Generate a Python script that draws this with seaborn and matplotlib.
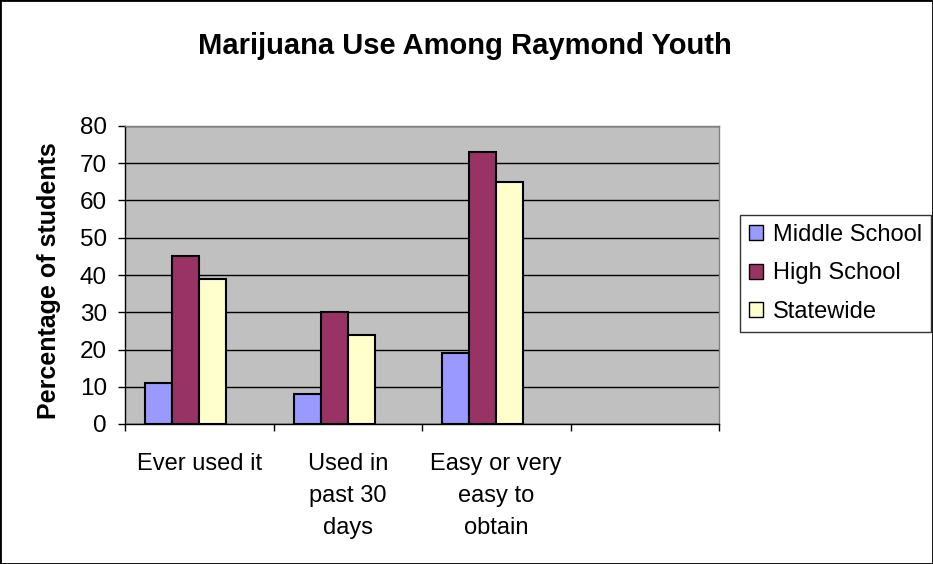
import pandas as pd
import matplotlib
matplotlib.use("Agg")
import matplotlib.pyplot as plt
import matplotlib.patches as mpatches
from matplotlib.ticker import FixedLocator
import seaborn as sns

# chart data
categories = ["Ever used it", "Used in\npast 30\ndays", "Easy or very\neasy to\nobtain"]
series = ["Middle School", "High School", "Statewide"]
middle_school = [11, 8, 19]
high_school = [45, 30, 73]
statewide = [39, 24, 65]
colors = ["#9999FF", "#993366", "#FFFFCC"]
y_ticks = [0, 10, 20, 30, 40, 50, 60, 70, 80]

rows = []
for name, vals in zip(series, [middle_school, high_school, statewide]):
    for cat, v in zip(categories, vals):
        rows.append({"category": cat, "group": name, "value": v})
df = pd.DataFrame(rows)

sns.set_style("white")
plt.rcParams["font.family"] = ["Liberation Sans", "DejaVu Sans"]
plt.rcParams["text.color"] = "black"
plt.rcParams["xtick.color"] = "black"
plt.rcParams["ytick.color"] = "black"
plt.rcParams["axes.labelcolor"] = "black"

fig = plt.figure(figsize=(9.33, 5.64), dpi=100)
ax = fig.add_axes([125 / 933, 1 - 424 / 564, 594 / 933, 298 / 564])

# Excel leaves an empty 4th series slot and an empty 4th category
hue_order = series + ["_blank"]
palette = dict(zip(hue_order, colors + ["#000000"]))
sns.barplot(data=df, x="category", y="value", hue="group", hue_order=hue_order,
            order=categories + [" "], palette=palette, width=4 / 5.5,
            edgecolor="black", linewidth=1.5, saturation=1, legend=False,
            errorbar=None, ax=ax)

ax.set_facecolor("#C0C0C0")
ax.set_xlim(-0.5, 3.5)
ax.set_ylim(0, 80)
ax.set_yticks(y_ticks)
ax.yaxis.grid(True, color="black", linewidth=1)
ax.set_axisbelow(True)
for s in ["top", "right"]:
    ax.spines[s].set_color("#808080")
    ax.spines[s].set_linewidth(1)
for s in ["left", "bottom"]:
    ax.spines[s].set_color("black")
    ax.spines[s].set_linewidth(1)

ax.tick_params(axis="y", direction="out", length=5, width=1, color="black",
               labelcolor="black", labelsize=17.5, pad=8, left=True)
ax.set_xticks([0, 1, 2])
ax.set_xticklabels(categories, fontsize=17, linespacing=1.57, va="top")
ax.tick_params(axis="x", which="major", length=0, pad=21, labelcolor="black")
ax.xaxis.set_minor_locator(FixedLocator([-0.5, 0.5, 1.5, 2.5, 3.5]))
ax.tick_params(axis="x", which="minor", direction="out", length=5, width=1,
               color="black", bottom=True)
ax.set_xlabel("")
ax.set_ylabel("")

fig.text(49 / 933, 1 - 281 / 564, "Percentage of students", rotation=90,
         fontsize=18, fontweight="bold", ha="center", va="center", color="black")
fig.text(465 / 933, 1 - 54 / 564, "Marijuana Use Among Raymond Youth",
         fontsize=21, fontweight="bold", ha="center", va="baseline", color="black")

handles = [mpatches.Patch(facecolor=c, edgecolor="black", linewidth=1, label=n)
           for c, n in zip(colors, series)]
leg = fig.legend(handles=handles, loc="upper left",
                 bbox_to_anchor=(740 / 933, 1 - 215 / 564), fontsize=17,
                 frameon=True, fancybox=False, handlelength=0.6,
                 handleheight=0.6, handletextpad=0.4, labelspacing=0.7,
                 borderpad=0.38, borderaxespad=0, labelcolor="black")
leg.get_frame().set_edgecolor("black")
leg.get_frame().set_linewidth(1)

# chart area border
fig.patches.append(mpatches.Rectangle((0, 0), 1, 1, transform=fig.transFigure,
                                      fill=False, edgecolor="black", linewidth=2))

fig.savefig("out.png", dpi=100)
